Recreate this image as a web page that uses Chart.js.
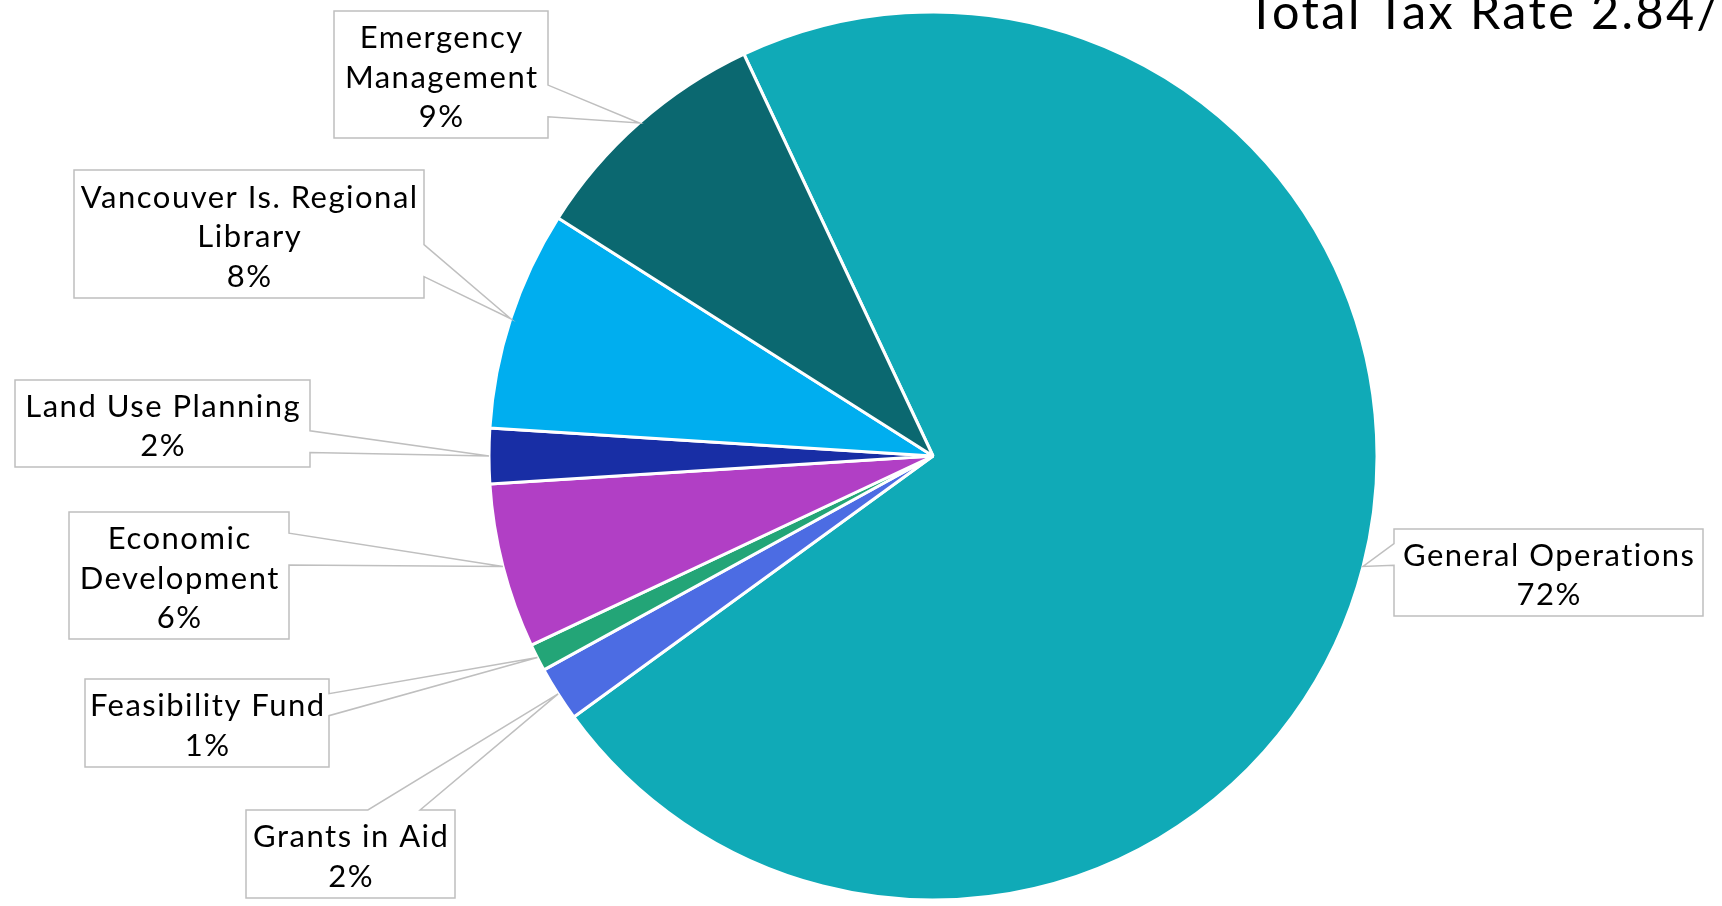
<!DOCTYPE html>
<html>
<head>
<meta charset="utf-8">
<title>Total Tax Rate</title>
<script src="https://cdn.jsdelivr.net/npm/chart.js@4"></script>
<style>
  html, body { margin: 0; padding: 0; background: #fff; overflow: hidden; }
  canvas { display: block; }
</style>
</head>
<body>
<canvas id="taxPie" width="1722" height="906"></canvas>
<script>
// slices, clockwise from the top-left edge of General Operations
const categories = [
  ['General Operations'],
  ['Grants in Aid'],
  ['Feasibility Fund'],
  ['Economic', 'Development'],
  ['Land Use Planning'],
  ['Vancouver Is. Regional', 'Library'],
  ['Emergency', 'Management']
];
const shares = [72, 2, 1, 6, 2, 8, 9];
const sliceColors = ['#10AAB7', '#4C6CE3', '#23A577', '#B13FC5', '#182EA5', '#00AEEF', '#0B6870'];
const titleText = 'Total Tax Rate 2.84/$1,000';

// label boxes [x, y, w, h], same order as categories
const boxes = [
  [1394, 529, 309, 87],
  [246, 810, 209, 88],
  [85, 679, 244, 88],
  [69, 512, 220, 127],
  [15, 380, 295, 87],
  [74, 170, 350, 128],
  [334, 11, 214, 127]
];

const FONT = 'Lato, "Noto Sans", sans-serif';

// rectangle with a wedge pointing at the slice (like an office callout shape)
function calloutPath(ctx, b, tip) {
  const [x, y, w, h] = b;
  const dx = tip.x - (x + w / 2), dy = tip.y - (y + h / 2);
  const horiz = Math.abs(dx * h) > Math.abs(dy * w);
  const xg = dx > 0 ? [7, 10] : [2, 5];
  const yg = dy > 0 ? [7, 10] : [2, 5];
  ctx.beginPath();
  ctx.moveTo(x, y);
  if (!horiz && dy < 0) {
    ctx.lineTo(x + w * xg[0] / 12, y); ctx.lineTo(tip.x, tip.y); ctx.lineTo(x + w * xg[1] / 12, y);
  }
  ctx.lineTo(x + w, y);
  if (horiz && dx > 0) {
    ctx.lineTo(x + w, y + h * yg[0] / 12); ctx.lineTo(tip.x, tip.y); ctx.lineTo(x + w, y + h * yg[1] / 12);
  }
  ctx.lineTo(x + w, y + h);
  if (!horiz && dy > 0) {
    ctx.lineTo(x + w * xg[1] / 12, y + h); ctx.lineTo(tip.x, tip.y); ctx.lineTo(x + w * xg[0] / 12, y + h);
  }
  ctx.lineTo(x, y + h);
  if (horiz && dx < 0) {
    ctx.lineTo(x, y + h * yg[1] / 12); ctx.lineTo(tip.x, tip.y); ctx.lineTo(x, y + h * yg[0] / 12);
  }
  ctx.closePath();
}

const calloutPlugin = {
  id: 'callouts',
  afterDatasetsDraw(chart) {
    const ctx = chart.ctx;
    const arcs = chart.getDatasetMeta(0).data;
    const values = chart.data.datasets[0].data;
    ctx.save();
    arcs.forEach((arc, i) => {
      const p = arc.getProps(['x', 'y', 'startAngle', 'endAngle', 'outerRadius'], true);
      const mid = (p.startAngle + p.endAngle) / 2;
      const tip = { x: p.x + Math.cos(mid) * p.outerRadius, y: p.y + Math.sin(mid) * p.outerRadius };
      const b = boxes[i];
      calloutPath(ctx, b, tip);
      ctx.fillStyle = '#fff';
      ctx.fill();
      ctx.lineWidth = 1.5;
      ctx.strokeStyle = '#BFBFBF';
      ctx.stroke();

      const lines = chart.data.labels[i].concat(values[i] + '%');
      const size = 31, lh = 39.5, cap = 0.7165 * size;
      ctx.font = size + 'px ' + FONT;
      ctx.letterSpacing = '1.5px';
      ctx.fillStyle = '#000';
      ctx.textAlign = 'center';
      ctx.textBaseline = 'alphabetic';
      const cy = b[1] + b[3] / 2 + 2;
      lines.forEach((t, j) => {
        const c = cy + (j - (lines.length - 1) / 2) * lh;
        ctx.fillText(t, b[0] + b[2] / 2 + 0.75, c + cap / 2);
      });
    });

    // title runs off the right edge
    ctx.font = '48.5px ' + FONT;
    ctx.letterSpacing = '2.4px';
    ctx.textAlign = 'left';
    ctx.fillStyle = '#000';
    ctx.fillText(titleText, 1247, 29);
    ctx.restore();
  }
};

new Chart(document.getElementById('taxPie'), {
  type: 'pie',
  data: {
    labels: categories,
    datasets: [{
      data: shares,
      backgroundColor: sliceColors,
      borderColor: '#fff',
      borderWidth: 3
    }]
  },
  options: {
    responsive: false,
    animation: false,
    rotation: -25.2,
    radius: 444,
    layout: { padding: { left: 144, top: 6 } },
    plugins: { legend: { display: false }, tooltip: { enabled: false } }
  },
  plugins: [calloutPlugin]
});
</script>
</body>
</html>
